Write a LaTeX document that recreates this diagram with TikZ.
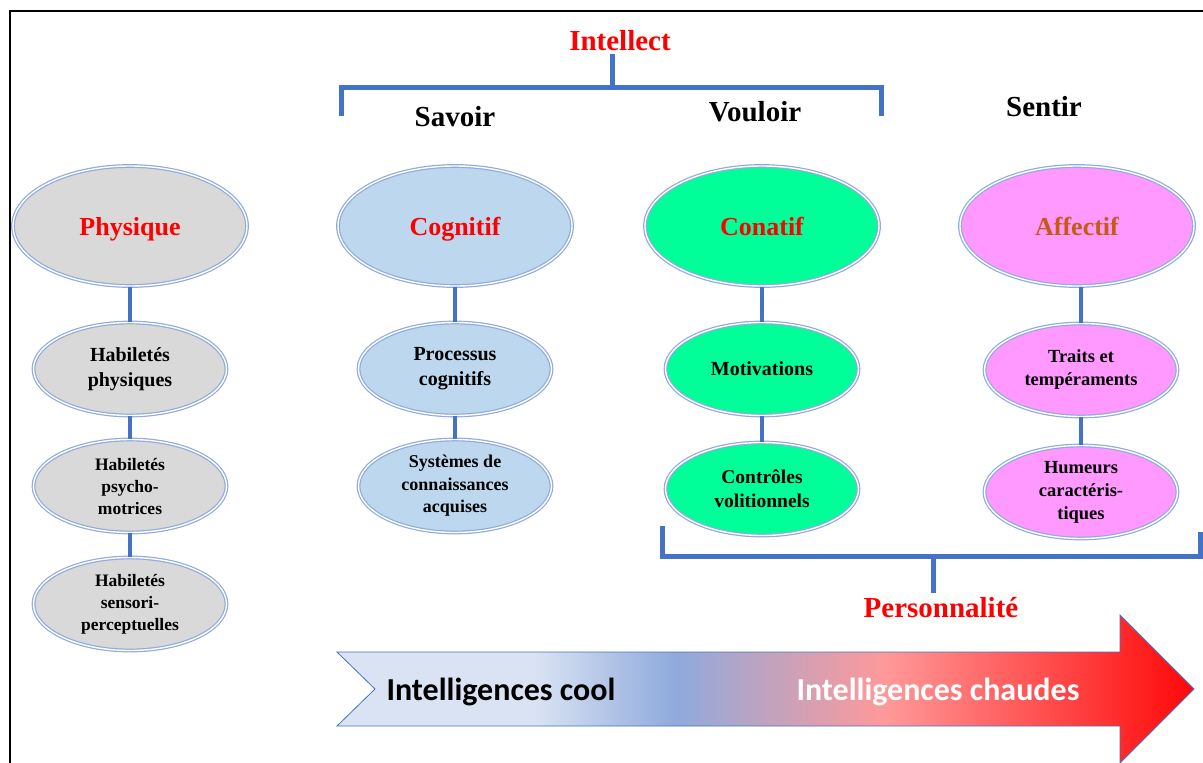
\documentclass[tikz,border=0pt]{standalone}
\usepackage{fontspec}
\setmainfont{Liberation Serif}
\newfontfamily\arrowfont{Carlito}
\usepackage{tikz}
\usepackage{xcolor}
\usetikzlibrary{shapes.geometric, positioning}

\definecolor{ringblue}{HTML}{8FAADC}
\definecolor{linkblue}{HTML}{4472C4}
\definecolor{physgray}{HTML}{D9D9D9}
\definecolor{cogblue}{HTML}{BDD7EE}
\definecolor{conagreen}{HTML}{00FF99}
\definecolor{affpink}{HTML}{FF99FF}
\definecolor{affbrown}{HTML}{C55A11}
\pgfdeclarehorizontalshading{coolhot}{100bp}{rgb(0bp)=(0.855,0.89,0.953); rgb(36.5bp)=(0.855,0.89,0.953); rgb(44.7bp)=(0.56,0.667,0.863); rgb(57bp)=(1,0.6,0.6); rgb(75bp)=(1,0.03,0.03); rgb(100bp)=(1,0.03,0.03)}

\begin{document}
\begin{tikzpicture}[x=1pt, y=-1pt, node distance=143pt]
    \tikzstyle{bigell} = [ellipse, draw=ringblue, double=white, double distance=1.4pt, line width=1.2pt, minimum width=234pt, minimum height=120pt, inner sep=0pt, text depth=0pt, font=\bfseries\fontsize{26}{31}\selectfont]
    \tikzstyle{smallell} = [ellipse, draw=ringblue, double=white, double distance=1.4pt, line width=1.2pt, minimum width=193pt, minimum height=93pt, inner sep=0pt, align=center, font=\bfseries\fontsize{20}{25}\selectfont]
    \tikzstyle{tinytext} = [font=\bfseries\fontsize{17.5}{22}\selectfont]
    \tikzstyle{link} = [draw=linkblue, line width=3.5pt]
    \tikzstyle{brace} = [draw=linkblue, line width=5pt]
    \tikzstyle{head} = [anchor=base, font=\bfseries\fontsize{29}{34}\selectfont]
    \tikzstyle{arrowtext} = [anchor=base, font=\arrowfont\bfseries\fontsize{32}{38}\selectfont]

    \useasboundingbox (0,0) rectangle (1203,763);
    \draw[line width=2.5pt] (10,763) -- (10,11) -- (1203,11);

    \node (phys) [bigell, fill=physgray, text=red] at (130,226) {Physique};
    \node (cog) [bigell, fill=cogblue, text=red] at (455,226) {Cognitif};
    \node (con) [bigell, fill=conagreen, text=red] at (762,226) {Conatif};
    \node (aff) [bigell, fill=affpink, text=affbrown] at (1077,226) {Affectif};

    \node (physh) [smallell, fill=physgray, below of=phys] {Habiletés\\physiques};
    \node (psych) [smallell, fill=physgray, tinytext, below of=physh, node distance=117pt] {Habiletés\\psycho-\\motrices};
    \node (sens) [smallell, fill=physgray, tinytext, below of=psych, node distance=118pt] {Habiletés\\sensori-\\perceptuelles};
    \node (proc) [smallell, fill=cogblue, below of=cog] {Processus\\cognitifs};
    \node (syst) [smallell, fill=cogblue, font=\bfseries\fontsize{18}{22.5}\selectfont, below of=proc, node distance=117pt] {Systèmes de\\connaissances\\acquises};
    \node (moti) [smallell, fill=conagreen, below of=con] {Motivations};
    \node (ctrl) [smallell, fill=conagreen, font=\bfseries\fontsize{19.5}{24}\selectfont, below of=moti, node distance=120pt] {Contrôles\\volitionnels};
    \node (trait) [smallell, fill=affpink, font=\bfseries\fontsize{18.5}{23}\selectfont, below of=aff, node distance=144pt, xshift=4pt] {Traits et\\tempéraments};
    \node (humeur) [smallell, fill=affpink, font=\bfseries\fontsize{18.5}{23}\selectfont, below of=trait, node distance=122pt] {Humeurs\\caractéris-\\tiques};

    \draw[link] (phys) -- (physh);
    \draw[link] (physh) -- (psych);
    \draw[link] (psych) -- (sens);
    \draw[link] (cog) -- (proc);
    \draw[link] (proc) -- (syst);
    \draw[link] (con) -- (moti);
    \draw[link] (moti) -- (ctrl);
    \draw[link] (trait.north) -- (trait.north |- aff.south);
    \draw[link] (trait) -- (humeur);

    \node (intellect) [head, text=red] at (620,50) {Intellect};
    \node (savoir) [head] at (455,126) {Savoir};
    \node (vouloir) [head] at (755,121) {Vouloir};
    \node (sentir) [head] at (1044,116) {Sentir};
    \coordinate (intL) at (341,116);
    \coordinate (intM) at (612,87);
    \coordinate (intR) at (881,116);
    \draw[brace] (intL) |- (intM) -| (intR);
    \draw[brace] (intM) -- (intM |- intellect.south);

    \node (perso) [head, text=red] at (941,617) {Personnalité};
    \coordinate (perL) at (662,526);
    \coordinate (perM) at (933,556);
    \coordinate (perR) at (1200,532);
    \draw[brace] (perL) |- (perM) -| (perR);
    \draw[brace] (perM) -- (perM |- perso.north);

    \shadedraw[shading=coolhot, draw=linkblue, line width=0.8pt] (337,652) -- (1120,652) -- (1120,615) -- (1194,689) -- (1120,763) -- (1120,726) -- (337,726) -- (375,689) -- cycle;
    \node (cool) [arrowtext] at (501,700) {Intelligences cool};
    \node (chaud) [arrowtext, text=white] at (938,700) {Intelligences chaudes};
\end{tikzpicture}
\end{document}
